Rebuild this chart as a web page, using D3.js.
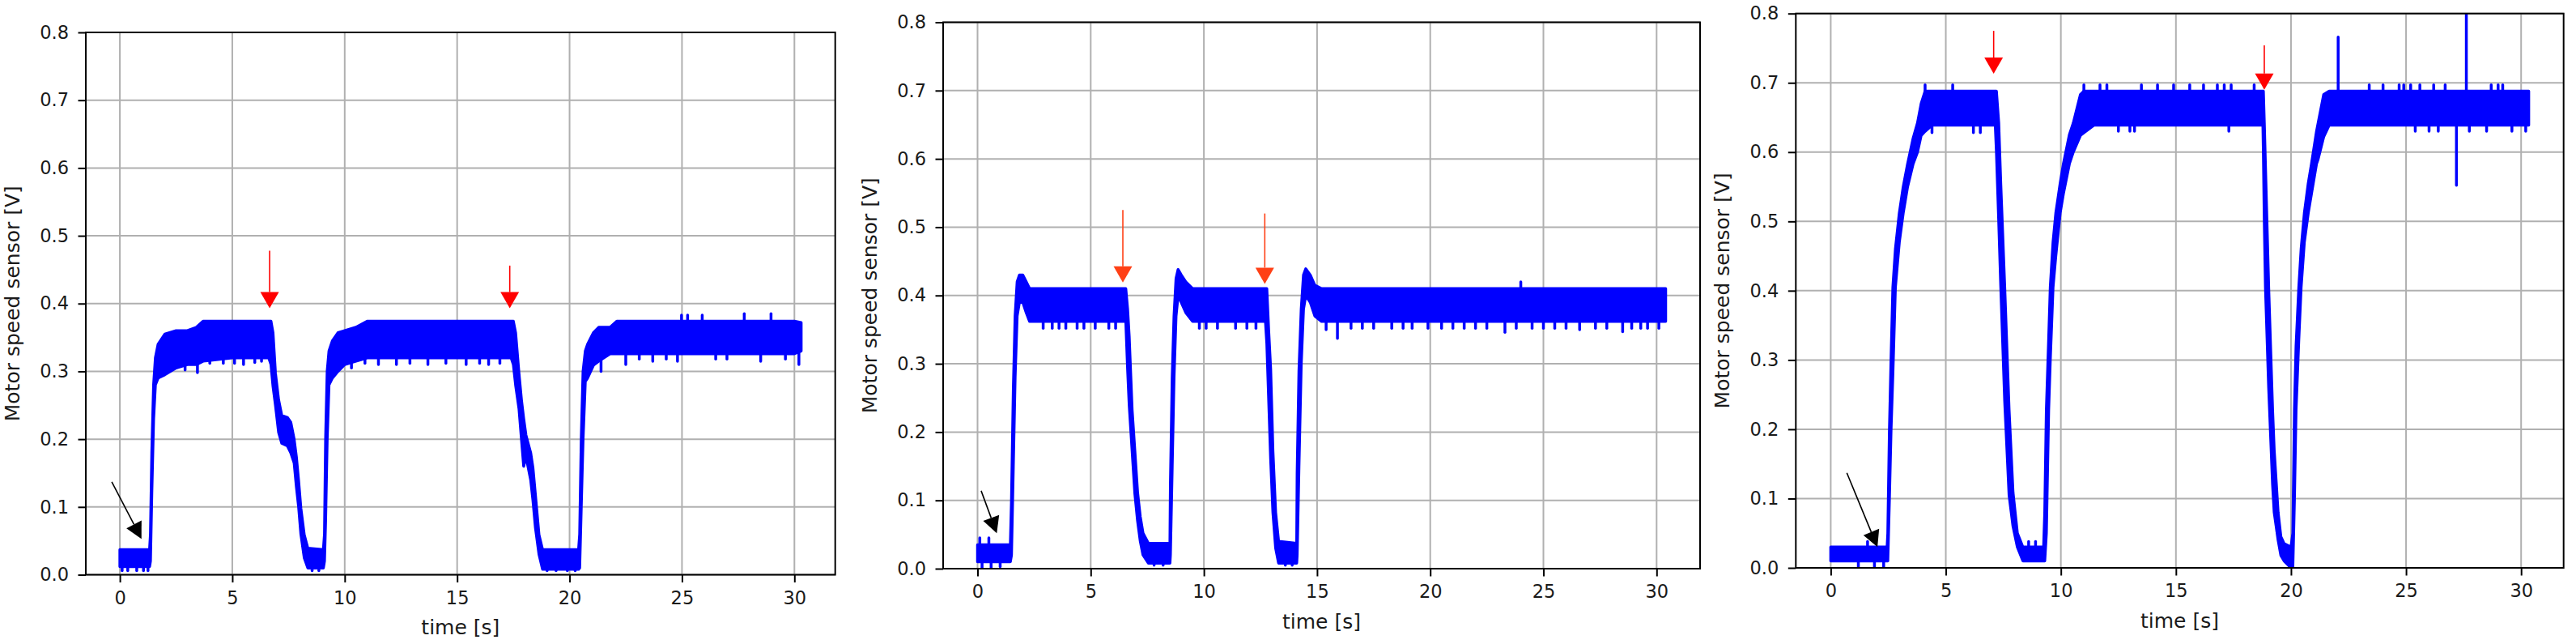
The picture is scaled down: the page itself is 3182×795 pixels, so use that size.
<!DOCTYPE html>
<html><head><meta charset="utf-8">
<script src="https://cdn.jsdelivr.net/npm/d3@7"></script>
<style>body{margin:0;background:#fff} text{font-family:"DejaVu Sans",sans-serif}</style>
</head><body><svg id="c" width="3182" height="795"></svg>
<script>
// ---------- tick values / labels ----------
const xTicks = [0, 5, 10, 15, 20, 25, 30];
const yTicks = [0, 0.1, 0.2, 0.3, 0.4, 0.5, 0.6, 0.7, 0.8];
const yTickLabels = ["0.0", "0.1", "0.2", "0.3", "0.4", "0.5", "0.6", "0.7", "0.8"];
const xLabel = "time [s]";
const yLabel = "Motor speed sensor [V]";

// ---------- panel 1: signal envelope (time, lower, upper) ----------
const p1Time = [0, 1.32, 1.36, 1.42, 1.5, 1.58, 1.7, 2.0, 2.5, 3.0, 3.4, 3.7, 5.0, 6.62, 6.72, 6.81, 6.92, 7.06, 7.2, 7.45, 7.6, 7.75, 7.85, 7.95, 8.05, 8.2, 8.36, 9.05, 9.1, 9.15, 9.22, 9.3, 9.45, 9.7, 10.0, 10.5, 11.0, 17.4, 17.5, 17.6, 17.75, 17.86, 17.96, 18.06, 18.27, 18.37, 18.48, 18.64, 18.8, 20.4, 20.45, 20.52, 20.6, 20.7, 20.8, 21.06, 21.3, 21.8, 22.1, 30.0, 30.3];
const p1Low  = [0.012, 0.012, 0.02, 0.12, 0.23, 0.28, 0.29, 0.295, 0.305, 0.31, 0.31, 0.315, 0.32, 0.32, 0.31, 0.278, 0.25, 0.21, 0.194, 0.19, 0.18, 0.165, 0.13, 0.1, 0.06, 0.025, 0.01, 0.01, 0.02, 0.08, 0.2, 0.28, 0.29, 0.3, 0.31, 0.315, 0.32, 0.32, 0.31, 0.28, 0.245, 0.2, 0.16, 0.175, 0.14, 0.11, 0.07, 0.03, 0.008, 0.008, 0.01, 0.1, 0.2, 0.285, 0.29, 0.309, 0.315, 0.326, 0.326, 0.326, 0.33];
const p1High = [0.037, 0.037, 0.06, 0.18, 0.28, 0.32, 0.34, 0.355, 0.36, 0.36, 0.365, 0.374, 0.374, 0.374, 0.374, 0.357, 0.297, 0.258, 0.235, 0.232, 0.225, 0.2, 0.174, 0.138, 0.098, 0.059, 0.039, 0.037, 0.06, 0.2, 0.3, 0.33, 0.345, 0.357, 0.36, 0.365, 0.374, 0.374, 0.374, 0.357, 0.297, 0.258, 0.23, 0.206, 0.18, 0.158, 0.118, 0.059, 0.037, 0.037, 0.06, 0.2, 0.3, 0.33, 0.34, 0.357, 0.365, 0.365, 0.374, 0.374, 0.372];
const p1SpikeTime  = [0.1, 0.35, 0.75, 1.05, 1.25, 2.9, 3.45, 4.0, 4.6, 5.1, 5.5, 6.0, 6.3, 8.55, 8.85, 10.3, 10.9, 11.5, 12.3, 12.9, 13.7, 14.5, 15.4, 16.0, 16.4, 16.9, 19.0, 19.4, 19.9, 20.25, 21.4, 22.5, 23.1, 23.7, 24.3, 24.8, 24.98, 25.25, 25.9, 26.5, 27.0, 27.77, 28.5, 28.96, 29.6, 30.2];
const p1SpikeValue = [0.006, 0.006, 0.006, 0.006, 0.006, 0.302, 0.298, 0.312, 0.312, 0.312, 0.31, 0.313, 0.315, 0.006, 0.006, 0.305, 0.312, 0.31, 0.31, 0.312, 0.31, 0.312, 0.31, 0.312, 0.31, 0.312, 0.006, 0.006, 0.006, 0.006, 0.3, 0.31, 0.318, 0.315, 0.318, 0.315, 0.383, 0.383, 0.383, 0.318, 0.318, 0.385, 0.315, 0.385, 0.318, 0.31];
// arrows: [tail time, tail value, tip time, tip value]
const p1Arrows = [[-0.36, 0.137, 0.96, 0.053], [6.66, 0.478, 6.66, 0.393], [17.34, 0.456, 17.34, 0.393]];

// ---------- panel 2 ----------
const p2Time = [0, 1.45, 1.5, 1.58, 1.66, 1.75, 1.85, 2.0, 2.15, 2.3, 6.55, 6.63, 6.7, 6.83, 6.95, 7.07, 7.19, 7.31, 7.55, 8.5, 8.52, 8.6, 8.68, 8.77, 8.86, 9.0, 9.2, 9.5, 12.72, 12.78, 12.86, 12.95, 13.05, 13.17, 13.3, 14.1, 14.12, 14.2, 14.3, 14.4, 14.5, 14.7, 14.9, 15.2, 30.4];
const p2Low  = [0.01, 0.01, 0.02, 0.15, 0.28, 0.37, 0.39, 0.39, 0.375, 0.362, 0.362, 0.292, 0.24, 0.172, 0.11, 0.07, 0.04, 0.02, 0.008, 0.008, 0.02, 0.15, 0.28, 0.37, 0.4, 0.39, 0.375, 0.362, 0.362, 0.33, 0.25, 0.16, 0.082, 0.03, 0.008, 0.008, 0.02, 0.15, 0.3, 0.38, 0.4, 0.39, 0.37, 0.362, 0.362];
const p2High = [0.035, 0.035, 0.1, 0.26, 0.37, 0.42, 0.43, 0.43, 0.42, 0.41, 0.41, 0.38, 0.34, 0.232, 0.172, 0.112, 0.076, 0.052, 0.037, 0.037, 0.12, 0.28, 0.37, 0.425, 0.438, 0.43, 0.42, 0.41, 0.41, 0.41, 0.35, 0.292, 0.172, 0.082, 0.04, 0.037, 0.14, 0.29, 0.38, 0.43, 0.439, 0.43, 0.415, 0.41, 0.41];
const p2SpikeTime  = [0.1, 0.2, 0.5, 0.6, 1.0, 2.9, 3.3, 3.6, 3.9, 4.4, 4.7, 5.2, 5.8, 6.1, 7.8, 8.2, 9.8, 10.1, 10.6, 11.4, 11.9, 12.3, 13.6, 13.9, 15.4, 15.9, 16.5, 17.0, 17.5, 18.3, 18.8, 19.2, 19.9, 20.5, 21.0, 21.5, 22.0, 22.5, 23.3, 23.8, 24.0, 24.5, 25.0, 25.5, 26.0, 26.6, 27.3, 27.8, 28.5, 28.9, 29.3, 29.6, 30.1];
const p2SpikeValue = [0.045, 0.0, 0.045, 0.0, 0.003, 0.352, 0.352, 0.352, 0.352, 0.352, 0.352, 0.352, 0.352, 0.352, 0.005, 0.005, 0.352, 0.352, 0.352, 0.352, 0.352, 0.352, 0.005, 0.005, 0.35, 0.337, 0.352, 0.352, 0.352, 0.352, 0.352, 0.352, 0.352, 0.352, 0.352, 0.352, 0.352, 0.352, 0.346, 0.352, 0.42, 0.352, 0.352, 0.352, 0.352, 0.35, 0.352, 0.352, 0.347, 0.352, 0.352, 0.352, 0.352];
const p2Arrows = [[0.16, 0.114, 0.85, 0.052], [6.42, 0.525, 6.42, 0.419], [12.69, 0.52, 12.69, 0.417]];

// ---------- panel 3 ----------
const p3Time = [0, 2.45, 2.48, 2.55, 2.62, 2.7, 2.81, 2.98, 3.15, 3.34, 3.58, 3.77, 3.93, 4.1, 4.41, 7.15, 7.2, 7.3, 7.39, 7.56, 7.75, 7.92, 8.11, 8.35, 9.25, 9.3, 9.37, 9.47, 9.54, 9.66, 9.78, 9.97, 10.11, 10.37, 10.54, 10.85, 11.0, 11.45, 18.78, 18.8, 18.84, 18.89, 19.03, 19.2, 19.27, 19.44, 19.56, 19.7, 20.0, 20.08, 20.15, 20.22, 20.34, 20.44, 20.58, 20.75, 20.89, 21.11, 21.18, 21.42, 21.66, 30.33];
const p3Low  = [0.01, 0.01, 0.01, 0.1, 0.198, 0.28, 0.405, 0.47, 0.512, 0.55, 0.583, 0.6, 0.624, 0.63, 0.639, 0.639, 0.6, 0.5, 0.405, 0.24, 0.105, 0.06, 0.03, 0.01, 0.01, 0.01, 0.05, 0.228, 0.3, 0.405, 0.45, 0.512, 0.54, 0.583, 0.6, 0.624, 0.628, 0.639, 0.639, 0.6, 0.5, 0.405, 0.26, 0.12, 0.08, 0.04, 0.018, 0.01, 0.0, 0.0, 0.1, 0.228, 0.33, 0.405, 0.47, 0.512, 0.54, 0.583, 0.59, 0.622, 0.639, 0.639];
const p3High = [0.03, 0.03, 0.05, 0.198, 0.3, 0.405, 0.46, 0.512, 0.55, 0.583, 0.62, 0.642, 0.67, 0.688, 0.688, 0.688, 0.688, 0.642, 0.553, 0.405, 0.228, 0.109, 0.05, 0.03, 0.03, 0.08, 0.228, 0.33, 0.405, 0.47, 0.512, 0.555, 0.583, 0.625, 0.642, 0.683, 0.688, 0.688, 0.688, 0.688, 0.642, 0.58, 0.405, 0.228, 0.17, 0.08, 0.045, 0.035, 0.03, 0.05, 0.228, 0.32, 0.405, 0.46, 0.512, 0.555, 0.583, 0.63, 0.642, 0.683, 0.688, 0.688];
const p3SpikeTime  = [1.2, 1.6, 1.9, 2.3, 4.1, 4.4, 5.3, 6.2, 6.5, 8.6, 8.9, 11.0, 11.7, 12.0, 12.5, 13.0, 13.2, 13.5, 14.2, 14.9, 15.6, 16.2, 16.8, 17.1, 17.3, 17.4, 18.4, 22.05, 23.4, 24.0, 24.7, 24.9, 25.2, 25.4, 25.6, 26.0, 26.2, 26.4, 26.7, 27.19, 27.62, 27.75, 28.5, 28.7, 29.0, 29.2, 29.6, 30.2];
const p3SpikeValue = [0.0, 0.038, 0.0, 0.0, 0.697, 0.628, 0.697, 0.628, 0.628, 0.038, 0.038, 0.697, 0.697, 0.697, 0.63, 0.63, 0.63, 0.697, 0.697, 0.697, 0.697, 0.697, 0.697, 0.697, 0.63, 0.697, 0.697, 0.766, 0.697, 0.697, 0.697, 0.697, 0.697, 0.63, 0.697, 0.63, 0.697, 0.63, 0.697, 0.552, 0.84, 0.63, 0.63, 0.697, 0.697, 0.697, 0.63, 0.63];
const p3Arrows = [[0.70, 0.137, 2.03, 0.030], [7.08, 0.775, 7.08, 0.713], [18.84, 0.754, 18.84, 0.69]];

// ---------- layout & style (not data) ----------
const layout = [
  {left: 106, right: 1031.7, top: 40, bottom: 709.5, arrowColors: ["#000", "#ff0000", "#ff0000"]},
  {left: 1165, right: 2100, top: 27.5, bottom: 702, arrowColors: ["#000", "#ff4016", "#ff4016"]},
  {left: 2218.3, right: 3166.7, top: 16.7, bottom: 701, arrowColors: ["#000", "#ff0000", "#ff0000"]}
];
const series = [
  {time: p1Time, lo: p1Low, hi: p1High, st: p1SpikeTime, sv: p1SpikeValue, arrows: p1Arrows},
  {time: p2Time, lo: p2Low, hi: p2High, st: p2SpikeTime, sv: p2SpikeValue, arrows: p2Arrows},
  {time: p3Time, lo: p3Low, hi: p3High, st: p3SpikeTime, sv: p3SpikeValue, arrows: p3Arrows}
];
const BLUE = "#0000ff", GRID = "#b0b0b0", TEXT = "#1a1a1a";

const svg = d3.select("#c");
svg.append("rect").attr("width", 3182).attr("height", 795).attr("fill", "#fff");
const defs = svg.append("defs");

series.forEach((s, i) => {
  const L = layout[i];
  const tMax = d3.max(s.time), tMin = 0, pad = (tMax - tMin) * 0.05;
  const x = d3.scaleLinear().domain([tMin - pad, tMax + pad]).range([L.left, L.right]);
  const y = d3.scaleLinear().domain([0, 0.8]).range([L.bottom, L.top]);
  const g = svg.append("g");
  const clipId = "clip" + i;
  defs.append("clipPath").attr("id", clipId).append("rect")
    .attr("x", L.left).attr("y", L.top).attr("width", L.right - L.left).attr("height", L.bottom - L.top);

  // grid
  g.append("g").selectAll("line").data(xTicks).join("line")
    .attr("x1", d => x(d)).attr("x2", d => x(d)).attr("y1", L.top).attr("y2", L.bottom)
    .attr("stroke", GRID).attr("stroke-width", 2);
  g.append("g").selectAll("line").data(yTicks).join("line")
    .attr("y1", d => y(d)).attr("y2", d => y(d)).attr("x1", L.left).attr("x2", L.right)
    .attr("stroke", GRID).attr("stroke-width", 2);

  // signal band
  const rows = s.time.map((t, k) => ({t, lo: s.lo[k], hi: s.hi[k]}));
  const area = d3.area().x(d => x(d.t)).y0(d => y(d.lo)).y1(d => y(d.hi));
  const dataG = g.append("g").attr("clip-path", `url(#${clipId})`);
  dataG.append("path").datum(rows).attr("d", area)
    .attr("fill", BLUE).attr("stroke", BLUE).attr("stroke-width", 3.5).attr("stroke-linejoin", "round");

  // noise spikes, drawn from the band middle to the spike value
  const bis = d3.bisector(d => d).left;
  const mid = t => {
    let k = Math.max(1, Math.min(s.time.length - 1, bis(s.time, t)));
    const t0 = s.time[k - 1], t1 = s.time[k], f = (t - t0) / (t1 - t0);
    const lo = s.lo[k - 1] + f * (s.lo[k] - s.lo[k - 1]);
    const hi = s.hi[k - 1] + f * (s.hi[k] - s.hi[k - 1]);
    return (lo + hi) / 2;
  };
  dataG.selectAll("line.sp").data(s.st.map((t, k) => ({t, v: s.sv[k]}))).join("line")
    .attr("class", "sp")
    .attr("x1", d => x(d.t)).attr("x2", d => x(d.t))
    .attr("y1", d => y(mid(d.t))).attr("y2", d => y(d.v))
    .attr("stroke", BLUE).attr("stroke-width", 3.5).attr("stroke-linecap", "round");

  // axes
  const xAxis = d3.axisBottom(x).tickValues(xTicks).tickSize(9.5).tickPadding(11).tickFormat(d3.format("d"));
  const yAxis = d3.axisLeft(y).tickValues(yTicks).tickSize(9.5).tickPadding(11.5).tickFormat((d, k) => yTickLabels[k]);
  const gx = g.append("g").attr("transform", `translate(0,${L.bottom})`).call(xAxis);
  const gy = g.append("g").attr("transform", `translate(${L.left},0)`).call(yAxis);
  [gx, gy].forEach(a => {
    a.select(".domain").remove();
    a.selectAll(".tick line").attr("stroke", "#000").attr("stroke-width", 2);
    a.selectAll(".tick text").attr("fill", TEXT).style("font-size", "22.5px").style("font-family", "DejaVu Sans");
  });

  // spines
  g.append("rect").attr("x", L.left).attr("y", L.top).attr("width", L.right - L.left).attr("height", L.bottom - L.top)
    .attr("fill", "none").attr("stroke", "#000").attr("stroke-width", 2);

  // axis labels
  g.append("text").attr("x", (L.left + L.right) / 2).attr("y", L.bottom + 73.5)
    .attr("text-anchor", "middle").attr("fill", TEXT).style("font-size", "25px").text(xLabel);
  g.append("text").attr("transform", `translate(${L.left - 82},${(L.top + L.bottom) / 2}) rotate(-90)`)
    .attr("text-anchor", "middle").attr("fill", TEXT).style("font-size", "25px").text(yLabel);

  // annotation arrows
  s.arrows.forEach((a, k) => {
    const col = L.arrowColors[k];
    const x0 = x(a[0]), y0 = y(a[1]), x1 = x(a[2]), y1 = y(a[3]);
    const dx = x1 - x0, dy = y1 - y0, len = Math.hypot(dx, dy), ux = dx / len, uy = dy / len;
    const hl = 20, hw = k === 0 ? 10.5 : 11.5;
    const bx = x1 - ux * hl, by = y1 - uy * hl;
    g.append("line").attr("x1", x0).attr("y1", y0).attr("x2", bx).attr("y2", by)
      .attr("stroke", col).attr("stroke-width", 1.6);
    g.append("path").attr("d", `M${x1},${y1}L${bx - uy * hw},${by + ux * hw}L${bx + uy * hw},${by - ux * hw}Z`)
      .attr("fill", col);
  });
});
</script></body></html>
